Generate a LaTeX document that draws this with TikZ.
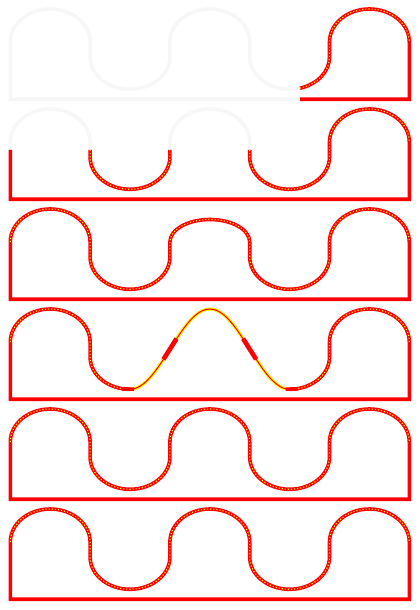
\documentclass[tikz,border=0pt]{standalone}
\begin{document}
\newcommand\humpR[1]{arc[start angle=180,end angle=0,x radius=39.9,y radius=#1]}
\newcommand\valR{arc[start angle=180,end angle=360,x radius=39.9,y radius=32.3]}
\newcommand\waveFull{(10.3,57.3) \humpR{33} -- (90.1,42.3) \valR -- (169.9,57.3) \humpR{33} -- (249.7,42.3) \valR -- (329.5,57.3) \humpR{33}}
\begin{tikzpicture}[x=1pt,y=1pt,
  redline/.style={draw=red,line width=3.6pt},
  ghost/.style={draw=black!3,line width=3.6pt},
  thinred/.style={draw=red,line width=1pt},
  yellowband/.style={draw=yellow,line width=3.2pt},
  speck/.style={draw=yellow,line width=1.1pt,dash pattern=on 1.1pt off 2pt}]
\useasboundingbox (0,0) rectangle (420,610);
% panel 1
\begin{scope}[yshift=510.7pt]
  \draw[ghost] \waveFull -- (409.3,0) -- (10.3,0) -- cycle;
  \draw[redline] (299.93,11.1) arc[start angle=285,end angle=360,x radius=39.9,y radius=32.3] -- (329.5,57.3) \humpR{33} -- (409.3,0) -- (300,0);
  \draw[speck] (299.93,11.1) arc[start angle=285,end angle=360,x radius=39.9,y radius=32.3] -- (329.5,57.3) \humpR{33};
\end{scope}
% panel 2
\begin{scope}[yshift=410.7pt]
  \draw[ghost] \waveFull -- (409.3,0) -- (10.3,0) -- cycle;
  \draw[redline] (10.3,49.3) -- (10.3,0) -- (409.3,0) -- (409.3,57.3)
    arc[start angle=0,end angle=180,x radius=39.9,y radius=33] -- (329.5,42.3)
    arc[start angle=360,end angle=180,x radius=39.9,y radius=32.3] -- (249.7,49.3);
  \draw[redline] (90.1,49.3) -- (90.1,42.3) \valR -- (169.9,49.3);
  \draw[speck] (249.7,49.3) -- (249.7,42.3) \valR -- (329.5,57.3) \humpR{33};
  \draw[speck] (90.1,49.3) -- (90.1,42.3) \valR -- (169.9,49.3);
\end{scope}
% panel 3
\begin{scope}[yshift=310.7pt]
  \draw[redline] (10.3,57.3) \humpR{33} -- (90.1,42.3) \valR -- (169.9,57.3) \humpR{22.5} -- (249.7,42.3) \valR -- (329.5,57.3) \humpR{33} -- (409.3,0) -- (10.3,0) -- cycle;
  \draw[speck] (10.3,57.3) \humpR{33} -- (90.1,42.3) \valR -- (169.9,57.3) \humpR{22.5} -- (249.7,42.3) \valR -- (329.5,57.3) \humpR{33};
\end{scope}
% panel 4
\begin{scope}[yshift=210.7pt]
  \draw[redline] (130,10) arc[start angle=270,end angle=180,x radius=39.9,y radius=32.3]
    -- (90.1,57.3) arc[start angle=0,end angle=180,x radius=39.9,y radius=33]
    -- (10.3,0) -- (409.3,0) -- (409.3,57.3)
    arc[start angle=0,end angle=180,x radius=39.9,y radius=33] -- (329.5,42.3)
    arc[start angle=360,end angle=270,x radius=39.9,y radius=32.3];
  \draw[speck] (130,10) arc[start angle=270,end angle=180,x radius=39.9,y radius=32.3]
    -- (90.1,57.3) arc[start angle=0,end angle=180,x radius=39.9,y radius=33];
  \draw[speck] (409.3,57.3) arc[start angle=0,end angle=180,x radius=39.9,y radius=33] -- (329.5,42.3)
    arc[start angle=360,end angle=270,x radius=39.9,y radius=32.3];
  \draw[yellowband] (130,10) cos (169.9,50.15) sin (209.8,90.3) cos (249.7,50.15) sin (289.6,10);
  \draw[thinred] (130,10) cos (169.9,50.15) sin (209.8,90.3) cos (249.7,50.15) sin (289.6,10);
  \draw[red,line width=4.6pt] (163.5,40) -- (176.5,60.6);
  \draw[red,line width=4.6pt] (243.1,60.6) -- (256.1,40);
  \draw[red,line width=3.6pt] (122,10.3) -- (134,10.2);
  \draw[red,line width=3.6pt] (285.6,10.2) -- (297.6,10.3);
\end{scope}
% panels 5 and 6
\foreach \yy in {110.7,10.7}{
\begin{scope}[yshift=\yy pt]
  \draw[redline] \waveFull -- (409.3,0) -- (10.3,0) -- cycle;
  \draw[speck] \waveFull;
\end{scope}}
\end{tikzpicture}
\end{document}
